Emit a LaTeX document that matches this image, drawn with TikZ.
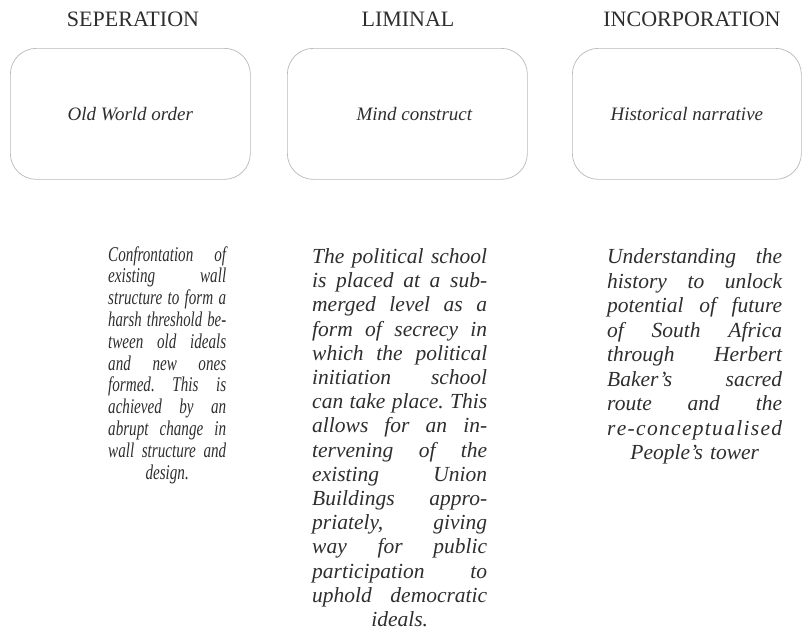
\documentclass[tikz,border=0pt]{standalone}
\usepackage{graphicx}
\usepackage{fontspec}
\setmainfont{Liberation Serif}
\newfontfamily\narrowfont{Liberation Serif}[FakeStretch=0.72]
\newlength\jlw
\newcommand\jl[1]{\par\noindent\begingroup
  \spaceskip=.25em plus 1fil\relax\xspaceskip=\spaceskip
  \settowidth\jlw{#1}%
  \ifdim\jlw>\hsize\hbox to\hsize{\rule{0pt}{15pt}\resizebox{\hsize}{\height}{#1}}%
  \else\hbox to\hsize{\rule{0pt}{15pt}#1}\fi\endgroup\par}
\newcommand\jc[1]{\par\noindent\hbox to\hsize{\rule{0pt}{15pt}\hss#1\hss}\par}
\begin{document}
\begin{tikzpicture}[x=1pt,y=-1pt,
  head/.style={font=\fontsize{22}{24}\selectfont, text=black!82, inner sep=0pt},
  stage/.style={draw=black!28, line width=0.7pt, rounded corners=26pt, minimum width=240pt, minimum height=131pt, inner sep=0pt, anchor=north west, font=\itshape\fontsize{19}{22}\selectfont, text=black!82},
  para/.style={inner sep=0pt, anchor=north west, text=black!82}]
\useasboundingbox (0,0) rectangle (802,632);
\node[head] (h1) at (133,19) {SEPERATION};
\node[head] (h2) at (408,19) {LIMINAL};
\node[head] (h3) at (692,19) {INCORPORATION};
\node[stage] (b1) at (10,48) {Old World order};
\node[stage] (b2) at (287,48) {\hspace*{14pt}Mind construct};
\node[stage, minimum width=229pt] (b3) at (572,48) {Historical narrative};
\node[para, text width=118pt, font=\narrowfont\itshape\frenchspacing\fontsize{21}{21.8}\selectfont] (p1) at (108,239) {%
\jl{Confrontation of}
\jl{existing wall}
\jl{structure to form a}
\jl{harsh threshold be-}
\jl{tween old ideals}
\jl{and new ones}
\jl{formed. This is}
\jl{achieved by an}
\jl{abrupt change in}
\jl{wall structure and}
\jc{design.}};
\node[para, text width=175pt, font=\itshape\frenchspacing\fontsize{21.5}{24.2}\selectfont] (p2) at (312,239) {%
\jl{The political school}
\jl{is placed at a sub-}
\jl{merged level as a}
\jl{form of secrecy in}
\jl{which the political}
\jl{initiation school}
\jl{can take place. This}
\jl{allows for an in-}
\jl{tervening of the}
\jl{existing Union}
\jl{Buildings appro-}
\jl{priately, giving}
\jl{way for public}
\jl{participation to}
\jl{uphold democratic}
\jc{ideals.}};
\node[para, text width=175pt, font=\itshape\frenchspacing\fontsize{21.5}{24.5}\selectfont] (p3) at (607,239) {%
\jl{Understanding the}
\jl{history to unlock}
\jl{potential of future}
\jl{of South Africa}
\jl{through Herbert}
\jl{Baker’s sacred}
\jl{route and the}
\jl{r\hfil e\hfil -\hfil c\hfil o\hfil n\hfil c\hfil e\hfil p\hfil t\hfil u\hfil a\hfil l\hfil i\hfil s\hfil e\hfil d}
\jc{People’s tower}};
\end{tikzpicture}
\end{document}
